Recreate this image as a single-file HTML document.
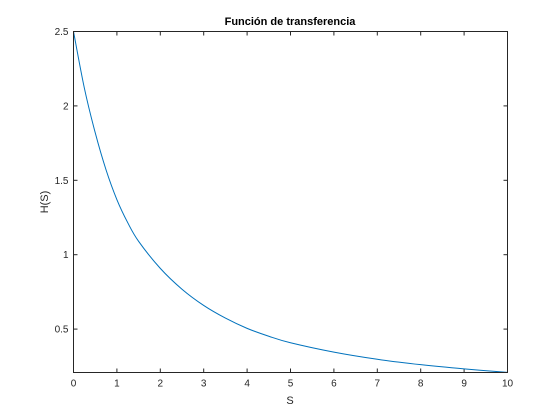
<!DOCTYPE html>
<html><head><meta charset="utf-8"><style>
body{margin:0;background:#fff;}
svg{display:block;font-family:"Liberation Sans",sans-serif;}
</style></head><body>
<svg id="chart" width="560" height="420">
<rect x="0" y="0" width="560" height="420" fill="#fff"/>
<rect x="73.5" y="31.5" width="434" height="341" fill="#fff"/>
<g id="ticks"></g>
<path id="curve" fill="none" stroke="#0072bd" stroke-width="1"/>
<rect x="73.5" y="31.5" width="434" height="341" fill="none" stroke="#262626" stroke-width="1"/>
<text x="290" y="25" text-anchor="middle" font-size="11" font-weight="bold" fill="#000">Función de transferencia</text>
<text x="290" y="404" text-anchor="middle" font-size="11" fill="#262626">S</text>
<text x="0" y="0" transform="translate(48,202) rotate(-90)" text-anchor="middle" font-size="11" fill="#262626">H(S)</text>
</svg>
<script>
const sValues=[0,0.25,0.5,0.75,1,1.25,1.5,2,2.5,3,3.5,4,4.5,5,6,7,8,9,10];
const hValues=[2.5,2.12,1.82,1.57,1.37,1.215,1.09,0.908,0.768,0.659,0.574,0.505,0.452,0.408,0.345,0.297,0.261,0.2325,0.209];
const xTicks=[0,1,2,3,4,5,6,7,8,9,10];
const yTicks=[0.5,1,1.5,2,2.5];
const yTickLabels=["0.5","1","1.5","2","2.5"];
const X0=73.5,X1=507.5,Y0=372.5,Y1=31.5,XMIN=0,XMAX=10,YMIN=0.2083,YMAX=2.5;
function xs(v){return X0+(v-XMIN)/(XMAX-XMIN)*(X1-X0);}
function ys(v){return Y0-(v-YMIN)/(YMAX-YMIN)*(Y0-Y1);}
const NS='http://www.w3.org/2000/svg';
const g=document.getElementById('ticks');
function mk(t,a){const e=document.createElementNS(NS,t);for(const k in a)e.setAttribute(k,a[k]);g.appendChild(e);return e;}
xTicks.forEach(v=>{
 const x=xs(v);
 const t1=mk('line',{x1:x,x2:x,y1:Y0,y2:Y0-4,stroke:'#262626'});
 
 
 const t2=mk('line',{x1:x,x2:x,y1:Y1,y2:Y1+4,stroke:'#262626'});
 
 
 const l=mk('text',{x:x,y:Y0+14,'text-anchor':'middle','font-size':'10',fill:'#262626'});
 l.textContent=String(v);
 
 
});
yTicks.forEach((v,i)=>{
 const y=ys(v);
 const t1=mk('line',{x1:X0,x2:X0+4,y1:y,y2:y,stroke:'#262626'});
 
 
 const t2=mk('line',{x1:X1,x2:X1-4,y1:y,y2:y,stroke:'#262626'});
 
 
 const l=mk('text',{x:X0-5,y:y+3.5,'text-anchor':'end','font-size':'10',fill:'#262626'});
 l.textContent=yTickLabels[i];
 
 
});
const P=sValues.map((s,i)=>[xs(s),ys(hValues[i])]);
let d='M'+P[0][0]+','+P[0][1];
for(let i=0;i<P.length-1;i++){
 const p0=P[Math.max(i-1,0)],p1=P[i],p2=P[i+1],p3=P[Math.min(i+2,P.length-1)];
 const c1=[p1[0]+(p2[0]-p0[0])/6,p1[1]+(p2[1]-p0[1])/6];
 const c2=[p2[0]-(p3[0]-p1[0])/6,p2[1]-(p3[1]-p1[1])/6];
 d+=' C'+c1+' '+c2+' '+p2;
}
document.getElementById('curve').setAttribute('d',d);
</script>
</body></html>
